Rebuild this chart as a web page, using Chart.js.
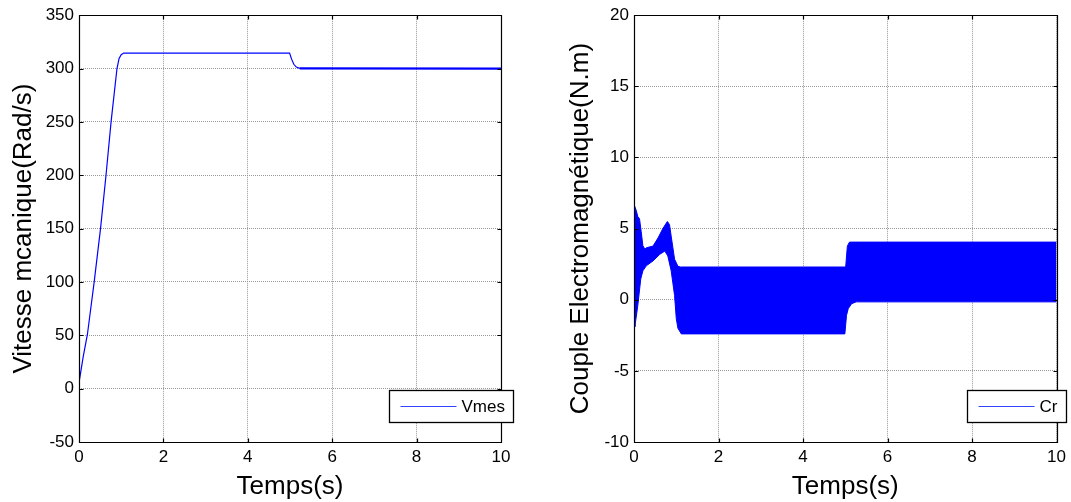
<!DOCTYPE html>
<html><head><meta charset="utf-8">
<script src="https://cdn.jsdelivr.net/npm/chart.js@4"></script>
<style>
html,body{margin:0;padding:0;background:#fff;width:1071px;height:502px;overflow:hidden}
.wrap{position:absolute;top:0}
canvas{display:block}
</style></head><body>
<div class="wrap" style="left:0"><canvas id="c1" width="535" height="502"></canvas></div>
<div class="wrap" style="left:535px"><canvas id="c2" width="536" height="502"></canvas></div>
<script>
// ---- Data ----
const vmesTime = [0, 0.01, 0.1, 0.2, 0.36, 0.51, 0.64, 0.76, 0.9, 0.95, 1.0, 1.06, 4.99, 5.04, 5.09, 5.15, 5.23, 10];
const vmesValues = [0, 8, 30, 51, 100, 150, 200, 250, 300, 309.5, 313, 314.5, 314.5, 308.6, 304, 301.4, 300.2, 300];

const crUpperTime = [0, 0.02, 0.05, 0.09, 0.13, 0.17, 0.21, 0.26, 0.29, 0.45, 0.57, 0.69, 0.79, 0.84, 0.88, 0.96, 1.04, 1.1, 5.01, 5.03, 5.05, 5.1, 10];
const crUpperValues = [6.7, 6.7, 6.3, 5.85, 5.7, 4.8, 3.8, 3.55, 3.65, 3.77, 4.35, 5.04, 5.5, 5.28, 4.47, 2.85, 2.35, 2.3, 2.3, 3.08, 3.77, 4.05, 4.05];
const crLowerTime = [0, 0.02, 0.09, 0.16, 0.21, 0.29, 0.45, 0.61, 0.73, 0.8, 0.88, 0.96, 1.0, 1.04, 1.12, 4.99, 5.03, 5.07, 5.15, 5.26, 10];
const crLowerValues = [-1.7, -1.9, -0.4, 1.46, 2.03, 2.38, 2.73, 3.19, 3.42, 3.08, 2.03, 0.3, -1.32, -2.01, -2.4, -2.4, -1.09, -0.63, -0.28, -0.15, -0.15];

const xTicks = [0, 2, 4, 6, 8, 10];
const yTicksLeft = [-50, 0, 50, 100, 150, 200, 250, 300, 350];
const yTicksRight = [-10, -5, 0, 5, 10, 15, 20];

const FONT = '"Liberation Sans", Arial, Helvetica, sans-serif';
const BLUE = '#0000ff';

function pts(xs, ys){ return xs.map((x,i)=>({x:x, y:ys[i]})); }

const framePlugin = {
  id: 'frameLegend',
  afterDraw(chart, args, opts){
    const ctx = chart.ctx, a = chart.chartArea;
    const xs = chart.scales.x, ys = chart.scales.y;
    ctx.save();
    ctx.setLineDash([]);
    ctx.strokeStyle = '#000';
    ctx.lineWidth = 1.2;
    const L = Math.round(a.left)+0.5, R = Math.round(a.right)+0.5, T = Math.round(a.top)+0.5, B = Math.round(a.bottom)+0.5;
    ctx.beginPath();
    ctx.rect(L, T, R-L, B-T);
    const tl = 4;
    xs.ticks.forEach(t=>{
      const p = Math.round(xs.getPixelForValue(t.value))+0.5;
      ctx.moveTo(p, B); ctx.lineTo(p, B-tl);
      ctx.moveTo(p, T); ctx.lineTo(p, T+tl);
    });
    ys.ticks.forEach(t=>{
      const p = Math.round(ys.getPixelForValue(t.value))+0.5;
      ctx.moveTo(L, p); ctx.lineTo(L+tl, p);
      ctx.moveTo(R, p); ctx.lineTo(R-tl, p);
    });
    ctx.stroke();
    // legend
    const label = chart.data.datasets[0].label;
    ctx.font = '17px ' + FONT;
    const tw = ctx.measureText(label).width;
    const w = 72 + tw + 9, h = 32;
    const right = Math.round(a.right + opts.dx) + 0.5;
    const bottom = Math.round(a.bottom - 20) + 0.5;
    const left = right - Math.round(w), top = bottom - h;
    ctx.fillStyle = '#fff';
    ctx.fillRect(left, top, right-left, h);
    ctx.lineWidth = 1.3;
    ctx.strokeStyle = '#000';
    ctx.strokeRect(left, top, right-left, h);
    const my = top + h/2;
    ctx.strokeStyle = '#3344ff';
    ctx.lineWidth = 1.2;
    ctx.beginPath(); ctx.moveTo(left+11, my); ctx.lineTo(left+67, my); ctx.stroke();
    ctx.fillStyle = '#000';
    ctx.textBaseline = 'middle';
    ctx.textAlign = 'left';
    ctx.fillText(label, left+72, my+1);
    ctx.restore();
  }
};

function makeOptions(cfg){
  return {
    responsive: false,
    animation: false,
    devicePixelRatio: 1,
    events: [],
    layout: { padding: { left: 0, top: 14, right: cfg.padRight, bottom: 0 } },
    plugins: {
      legend: { display: false },
      tooltip: { enabled: false },
      frameLegend: { dx: cfg.legendDx }
    },
    elements: { point: { radius: 0 }, line: { tension: 0 } },
    scales: {
      x: {
        type: 'linear', min: 0, max: 10,
        afterBuildTicks: s => { s.ticks = xTicks.map(v=>({value:v})); },
        afterFit: s => { s.height = 60; },
        ticks: { color: '#000', font: { family: FONT, size: 17 }, padding: 5, maxRotation: 0 },
        grid: { color: '#999', lineWidth: 1, drawTicks: false },
        border: { display: false, dash: [1, 1] },
        title: { display: true, text: 'Temps(s)', color: '#000', font: { family: FONT, size: 26 }, padding: { top: 0, bottom: 0 } }
      },
      y: {
        type: 'linear', min: cfg.yMin, max: cfg.yMax,
        afterBuildTicks: s => { s.ticks = cfg.yTicks.map(v=>({value:v})); },
        afterFit: s => { s.width = cfg.yWidth; },
        ticks: { color: '#000', font: { family: FONT, size: 17 }, padding: 5 },
        grid: { color: '#999', lineWidth: 1, drawTicks: false },
        border: { display: false, dash: [1, 1] },
        title: { display: true, text: cfg.yTitle, color: '#000', font: { family: FONT, size: 26 }, padding: { top: cfg.titlePad, bottom: 0 } }
      }
    }
  };
}

new Chart(document.getElementById('c1'), {
  type: 'line',
  data: { datasets: [{
    label: 'Vmes',
    data: pts(vmesTime, vmesValues),
    borderColor: BLUE, borderWidth: 1.2, fill: false,
    segment: { borderWidth: c => (c.p0.parsed.x >= 5.2 ? 2.2 : 1.2) }
  }]},
  options: makeOptions({ padRight: 34, yWidth: 79, yMin: -50, yMax: 350, yTicks: yTicksLeft,
    yTitle: 'Vitesse mcanique(Rad/s)', titlePad: 8, legendDx: 12 }),
  plugins: [framePlugin]
});

new Chart(document.getElementById('c2'), {
  type: 'line',
  data: { datasets: [
    { label: 'Cr', data: pts(crUpperTime, crUpperValues), borderColor: BLUE, backgroundColor: BLUE, borderWidth: 1, fill: '+1' },
    { label: 'Cr_low', data: pts(crLowerTime, crLowerValues), borderColor: BLUE, backgroundColor: BLUE, borderWidth: 1, fill: false }
  ]},
  options: makeOptions({ padRight: 14, yWidth: 99, yMin: -10, yMax: 20, yTicks: yTicksRight,
    yTitle: 'Couple Electromagnétique(N.m)', titlePad: 30, legendDx: 9 }),
  plugins: [framePlugin]
});
</script>
</body></html>
